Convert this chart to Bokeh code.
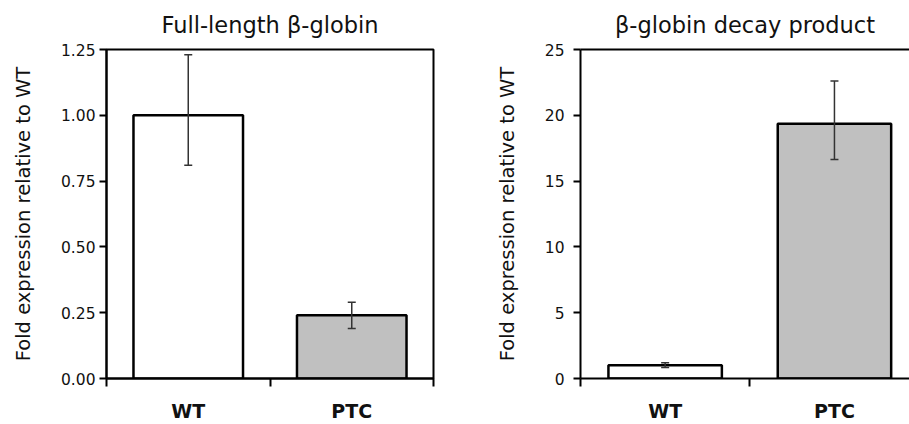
from bokeh.plotting import figure
from bokeh.layouts import row
from bokeh.models import (ColumnDataSource, Range1d, FixedTicker, Whisker, TeeHead,
                          LinearAxis, NumeralTickFormatter)
from bokeh.embed import file_html
from bokeh.resources import INLINE

# ---- data ----
categories = ["WT", "PTC"]
cat_pos = [0.5, 1.5]
boundaries = [0, 1, 2]

full_title = "Full-length β-globin"
full_values = [1.00, 0.24]
full_lower = [0.81, 0.19]
full_upper = [1.23, 0.29]
full_yticks = [0.0, 0.25, 0.5, 0.75, 1.0, 1.25]

decay_title = "β-globin decay product"
decay_values = [1.0, 19.35]
decay_lower = [0.83, 16.65]
decay_upper = [1.19, 22.6]
decay_yticks = [0, 5, 10, 15, 20, 25]

fill_colors = ["#FFFFFF", "#C0C0C0"]
ylabel = "Fold expression relative to WT"

FONT = "DejaVu Sans"


def make_panel(title, values, lower, upper, yticks, ymax, fmt, width, left, right,
               xend, label_standoff, outline):
    p = figure(width=width, height=424, output_backend="svg", toolbar_location=None,
               x_range=Range1d(0, xend), y_range=Range1d(0, ymax),
               min_border_left=left, min_border_right=right,
               min_border_top=49, min_border_bottom=46,
               x_axis_location=None, y_axis_location=None)
    p.title.text = title
    p.title.align = "center"
    p.title.vertical_align = "top"
    p.title.text_font = FONT
    p.title.text_font_size = "22.5px"
    p.title.text_font_style = "normal"
    p.title.text_color = "#111111"
    p.title.standoff = 20
    p.xgrid.visible = False
    p.ygrid.visible = False
    p.background_fill_color = "white"
    p.border_fill_color = "white"
    if outline:
        p.outline_line_color = "black"
        p.outline_line_width = 2
    else:
        p.outline_line_color = None
        top = LinearAxis(ticker=FixedTicker(ticks=[]), major_tick_out=0, major_tick_in=0,
                         major_label_text_font_size="0px", major_label_standoff=0,
                         axis_line_width=2, axis_line_color="black")
        p.add_layout(top, "above")

    src = ColumnDataSource(dict(x=cat_pos, top=values, lower=lower, upper=upper,
                                color=fill_colors))
    p.vbar(x="x", top="top", bottom=0, width=0.67, source=src, fill_color="color",
           line_color="black", line_width=2.5)
    w = Whisker(base="x", lower="lower", upper="upper", source=src, level="overlay",
                line_color="#333333", line_width=1.5,
                upper_head=TeeHead(size=8, line_color="#333333", line_width=1.5),
                lower_head=TeeHead(size=8, line_color="#333333", line_width=1.5))
    p.add_layout(w)

    yax = LinearAxis(ticker=FixedTicker(ticks=yticks, minor_ticks=[]),
                     axis_label=ylabel, axis_label_text_font=FONT,
                     axis_label_text_font_size="19.5px", axis_label_text_font_style="normal",
                     axis_label_text_color="#111111", axis_label_standoff=23,
                     major_label_text_font=FONT, major_label_text_font_size="15.5px",
                     major_label_text_color="#111111", major_label_standoff=label_standoff,
                     major_tick_out=7, major_tick_in=0, major_tick_line_width=2,
                     axis_line_width=2, minor_tick_out=0, minor_tick_in=0)
    yax.formatter = NumeralTickFormatter(format=fmt)
    p.add_layout(yax, "left")

    xax = LinearAxis(ticker=FixedTicker(ticks=cat_pos, minor_ticks=boundaries),
                     major_tick_out=0, major_tick_in=0,
                     minor_tick_out=8, minor_tick_in=0, minor_tick_line_width=2,
                     axis_line_width=2, major_label_standoff=13,
                     major_label_text_font=FONT, major_label_text_font_size="19px",
                     major_label_text_font_style="bold", major_label_text_color="#111111",
                     major_label_overrides={cat_pos[i]: categories[i] for i in range(2)})
    p.add_layout(xax, "below")
    return p


p1 = make_panel(full_title, full_values, full_lower, full_upper, full_yticks, 1.25, "0.00",
                455, 106, 22, 2.0, 4, True)
p2 = make_panel(decay_title, decay_values, decay_lower, decay_upper, decay_yticks, 25, "0",
                454, 125, 0, 329 / 169.3, 9, False)

layout = row(p1, p2)
open("out.html", "w").write(file_html(layout, INLINE))
